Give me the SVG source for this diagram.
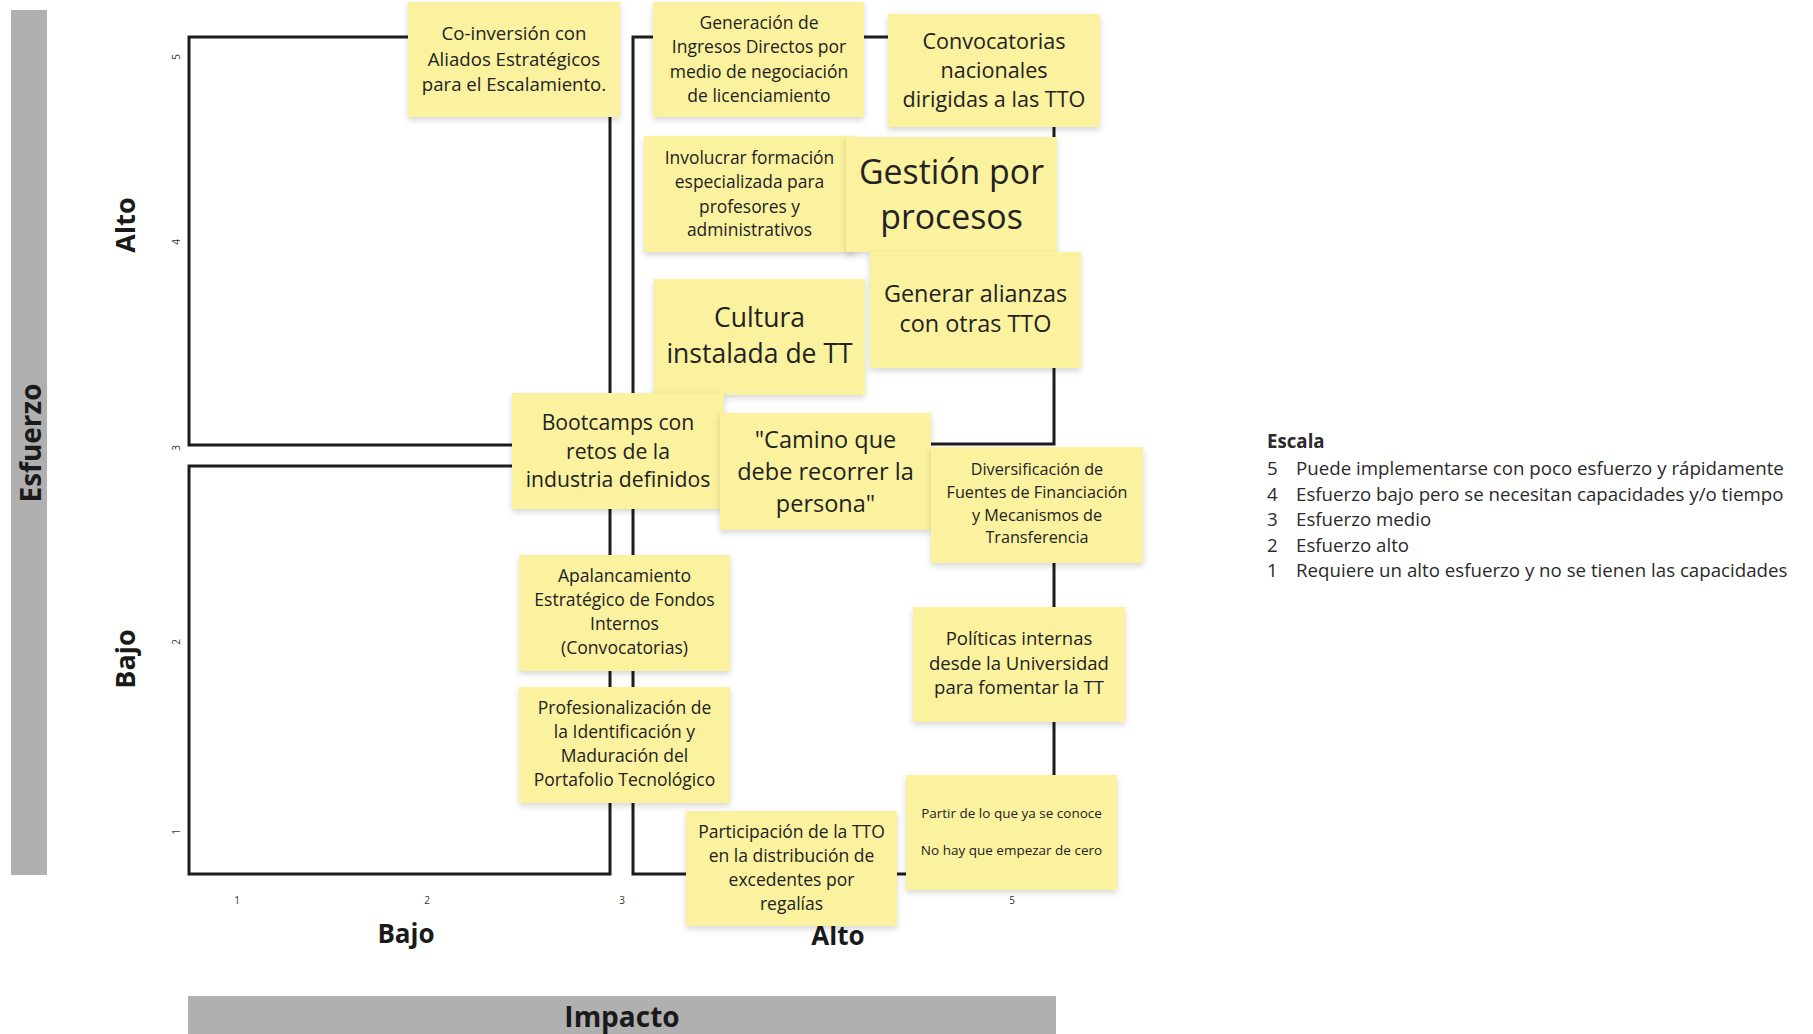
<svg xmlns="http://www.w3.org/2000/svg" width="1813" height="1034" viewBox="0 0 1813 1034">
  <defs>
    <filter id="noteShadow" x="-10%" y="-10%" width="120%" height="130%">
      <feDropShadow dx="0" dy="3" stdDeviation="3" flood-color="#000" flood-opacity="0.16"/>
    </filter>
    <style>
      .bar { fill: #b0b0b0; }
      .quad { fill: none; stroke: #1c1c1c; stroke-width: 3; }
      .note rect { fill: #fbf29f; filter: url(#noteShadow); }
      .note text { font-family: "Open Sans", "Noto Sans", sans-serif; fill: #222; text-anchor: middle; }
      .axis { font-family: "Open Sans", "Noto Sans", sans-serif; font-weight: 700; fill: #1a1a1a; text-anchor: middle; }
      .tick { font-family: "Open Sans", "Noto Sans", sans-serif; font-size: 10px; fill: #333; text-anchor: middle; }
      .legend { font-family: "Open Sans", "Noto Sans", sans-serif; font-size: 18.7px; fill: #2a2a2a; }
    </style>
  </defs>

  <rect width="1813" height="1034" fill="#ffffff"/>

  <!-- axis bars -->
  <g id="axis-bars">
    <rect class="bar" x="11" y="10" width="36" height="865"/>
    <rect class="bar" x="188" y="996" width="868" height="38"/>
    <text class="axis" font-size="28" transform="translate(41 443) rotate(-90)">Esfuerzo</text>
    <text class="axis" font-size="28" x="622" y="1027">Impacto</text>
  </g>

  <!-- axis level labels -->
  <g id="axis-labels">
    <text class="axis" font-size="27" transform="translate(135 225) rotate(-90)">Alto</text>
    <text class="axis" font-size="27" transform="translate(135 659) rotate(-90)">Bajo</text>
    <text class="axis" font-size="26" x="406" y="943">Bajo</text>
    <text class="axis" font-size="26" x="838" y="945">Alto</text>
  </g>

  <!-- scale ticks -->
  <g id="ticks">
    <text class="tick" transform="translate(180 57) rotate(-90)">5</text>
    <text class="tick" transform="translate(180 242) rotate(-90)">4</text>
    <text class="tick" transform="translate(180 448) rotate(-90)">3</text>
    <text class="tick" transform="translate(180 642) rotate(-90)">2</text>
    <text class="tick" transform="translate(180 832) rotate(-90)">1</text>
    <text class="tick" x="237" y="904">1</text>
    <text class="tick" x="427" y="904">2</text>
    <text class="tick" x="622" y="904">3</text>
    <text class="tick" x="1012" y="904">5</text>
  </g>

  <!-- quadrant frames -->
  <g id="connectors">
    <rect class="quad" x="189" y="37" width="421" height="408"/>
    <rect class="quad" x="189" y="466" width="421" height="408"/>
    <rect class="quad" x="633" y="37" width="421" height="407"/>
    <rect class="quad" x="633" y="466" width="421" height="408"/>
  </g>

  <!-- sticky notes -->
  <g id="note-coinversion" class="note">
    <rect x="408" y="2" width="212" height="115"/>
    <text font-size="18.6"><tspan x="514" y="40">Co-inversión con</tspan><tspan x="514" y="65.5">Aliados Estratégicos</tspan><tspan x="514" y="91">para el Escalamiento.</tspan></text>
  </g>

  <g id="note-ingresos" class="note">
    <rect x="653" y="2" width="211" height="115"/>
    <text font-size="17.5"><tspan x="759" y="29">Generación de</tspan><tspan x="759" y="53">Ingresos Directos por</tspan><tspan x="759" y="78">medio de negociación</tspan><tspan x="759" y="102">de licenciamiento</tspan></text>
  </g>

  <g id="note-convocatorias" class="note">
    <rect x="888" y="14" width="212" height="113"/>
    <text font-size="21.6"><tspan x="994" y="48.5">Convocatorias</tspan><tspan x="994" y="77.5">nacionales</tspan><tspan x="994" y="106.5">dirigidas a las TTO</tspan></text>
  </g>

  <g id="note-formacion" class="note">
    <rect x="644" y="136" width="211" height="116"/>
    <text font-size="17.4"><tspan x="749.5" y="164">Involucrar formación</tspan><tspan x="749.5" y="188">especializada para</tspan><tspan x="749.5" y="213">profesores y</tspan><tspan x="749.5" y="236">administrativos</tspan></text>
  </g>

  <g id="note-gestion" class="note">
    <rect x="846" y="137" width="211" height="115"/>
    <text font-size="33.8"><tspan x="951.5" y="184">Gestión por</tspan><tspan x="951.5" y="229">procesos</tspan></text>
  </g>

  <g id="note-alianzas" class="note">
    <rect x="870" y="252" width="211" height="116"/>
    <text font-size="23.4"><tspan x="975.5" y="302">Generar alianzas</tspan><tspan x="975.5" y="332">con otras TTO</tspan></text>
  </g>

  <g id="note-cultura" class="note">
    <rect x="654" y="279" width="211" height="116"/>
    <text font-size="26.5"><tspan x="759.5" y="327">Cultura</tspan><tspan x="759.5" y="363">instalada de TT</tspan></text>
  </g>

  <g id="note-bootcamps" class="note">
    <rect x="512" y="393" width="212" height="116"/>
    <text font-size="21.2"><tspan x="618" y="429.5">Bootcamps con</tspan><tspan x="618" y="458.5">retos de la</tspan><tspan x="618" y="487">industria definidos</tspan></text>
  </g>

  <g id="note-camino" class="note">
    <rect x="720" y="413" width="211" height="117"/>
    <text font-size="23.5"><tspan x="825.5" y="447.5">"Camino que</tspan><tspan x="825.5" y="479.5">debe recorrer la</tspan><tspan x="825.5" y="511.5">persona"</tspan></text>
  </g>

  <g id="note-diversificacion" class="note">
    <rect x="931" y="447" width="212" height="116"/>
    <text font-size="16.2"><tspan x="1037" y="474.5">Diversificación de</tspan><tspan x="1037" y="497.5">Fuentes de Financiación</tspan><tspan x="1037" y="520.5">y Mecanismos de</tspan><tspan x="1037" y="543">Transferencia</tspan></text>
  </g>

  <g id="note-apalancamiento" class="note">
    <rect x="519" y="555" width="211" height="116"/>
    <text font-size="17.6"><tspan x="624.5" y="582">Apalancamiento</tspan><tspan x="624.5" y="606">Estratégico de Fondos</tspan><tspan x="624.5" y="630">Internos</tspan><tspan x="624.5" y="654">(Convocatorias)</tspan></text>
  </g>

  <g id="note-politicas" class="note">
    <rect x="913" y="607" width="212" height="115"/>
    <text font-size="18.5"><tspan x="1019" y="644.5">Políticas internas</tspan><tspan x="1019" y="669.5">desde la Universidad</tspan><tspan x="1019" y="694">para fomentar la TT</tspan></text>
  </g>

  <g id="note-profesionalizacion" class="note">
    <rect x="519" y="687" width="211" height="116"/>
    <text font-size="17.5"><tspan x="624.5" y="714">Profesionalización de</tspan><tspan x="624.5" y="738">la Identificación y</tspan><tspan x="624.5" y="762">Maduración del</tspan><tspan x="624.5" y="786">Portafolio Tecnológico</tspan></text>
  </g>

  <g id="note-participacion" class="note">
    <rect x="686" y="811" width="211" height="115"/>
    <text font-size="17.5"><tspan x="791.5" y="838">Participación de la TTO</tspan><tspan x="791.5" y="862">en la distribución de</tspan><tspan x="791.5" y="886">excedentes por</tspan><tspan x="791.5" y="910">regalías</tspan></text>
  </g>

  <g id="note-partir" class="note">
    <rect x="906" y="775" width="211" height="115"/>
    <text font-size="13.5"><tspan x="1011.5" y="818">Partir de lo que ya se conoce</tspan><tspan x="1011.5" y="855">No hay que empezar de cero</tspan></text>
  </g>

  <!-- scale legend -->
  <g id="legend" class="legend">
    <text x="1267" y="448" font-weight="700">Escala</text>
    <text x="1267" y="475">5</text><text x="1296" y="475">Puede implementarse con poco esfuerzo y rápidamente</text>
    <text x="1267" y="500.5">4</text><text x="1296" y="500.5">Esfuerzo bajo pero se necesitan capacidades y/o tiempo</text>
    <text x="1267" y="526">3</text><text x="1296" y="526">Esfuerzo medio</text>
    <text x="1267" y="551.5">2</text><text x="1296" y="551.5">Esfuerzo alto</text>
    <text x="1267" y="577">1</text><text x="1296" y="577">Requiere un alto esfuerzo y no se tienen las capacidades</text>
  </g>
</svg>
